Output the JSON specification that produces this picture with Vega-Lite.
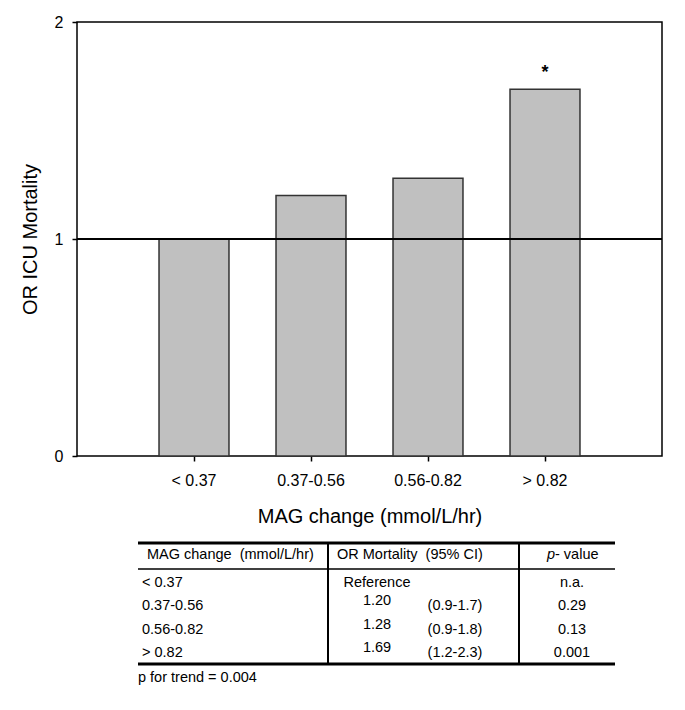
{
  "$schema": "https://vega.github.io/schema/vega-lite/v6.json",
  "background": "white",
  "padding": {"left": 19, "top": 13, "right": 5, "bottom": 5},
  "spacing": 14,
  "config": {
    "font": "Liberation Sans",
    "view": {"stroke": "black", "strokeWidth": 1.5},
    "axis": {
      "domain": false,
      "grid": false,
      "ticks": true,
      "tickColor": "black",
      "tickWidth": 1.5,
      "tickSize": 5,
      "labelColor": "black",
      "titleColor": "black",
      "labelFont": "Liberation Sans",
      "titleFont": "Liberation Sans",
      "titleFontWeight": "normal",
      "titleFontSize": 20
    },
    "text": {"font": "Liberation Sans", "color": "black"}
  },
  "datasets": {
    "bars": [
      {"cat": "< 0.37", "or": 1.0, "sig": ""},
      {"cat": "0.37-0.56", "or": 1.2, "sig": ""},
      {"cat": "0.56-0.82", "or": 1.28, "sig": ""},
      {"cat": "> 0.82", "or": 1.69, "sig": "*"}
    ],
    "cells": [
      {"row": 0, "col": 1, "role": "head1", "text": "MAG change\u00a0\u00a0(mmol/L/hr)"},
      {"row": 0, "col": 2, "role": "head2", "text": "OR Mortality\u00a0\u00a0(95% CI)"},
      {"row": 1, "col": 1, "role": "group", "text": "< 0.37"},
      {"row": 2, "col": 1, "role": "group", "text": "0.37-0.56"},
      {"row": 3, "col": 1, "role": "group", "text": "0.56-0.82"},
      {"row": 4, "col": 1, "role": "group", "text": "> 0.82"},
      {"row": 1, "col": 3, "role": "ref", "text": "Reference"},
      {"row": 2, "col": 3, "role": "or", "text": "1.20"},
      {"row": 3, "col": 3, "role": "or", "text": "1.28"},
      {"row": 4, "col": 3, "role": "or", "text": "1.69"},
      {"row": 2, "col": 4, "role": "ci", "text": "(0.9-1.7)"},
      {"row": 3, "col": 4, "role": "ci", "text": "(0.9-1.8)"},
      {"row": 4, "col": 4, "role": "ci", "text": "(1.2-2.3)"},
      {"row": 1, "col": 6, "role": "p", "text": "n.a."},
      {"row": 2, "col": 6, "role": "p", "text": "0.29"},
      {"row": 3, "col": 6, "role": "p", "text": "0.13"},
      {"row": 4, "col": 6, "role": "p", "text": "0.001"},
      {"row": 5, "col": 0, "role": "foot", "text": "p for trend = 0.004"}
    ],
    "lines": [
      {"kind": "outer", "row": -0.5, "col": 0, "col2": 7},
      {"kind": "outer", "row": 4.5, "col": 0, "col2": 7},
      {"kind": "header", "row": 0.5, "col": 0, "col2": 7},
      {"kind": "sep", "col": 2, "row": -0.5, "row2": 4.5},
      {"kind": "sep", "col": 5, "row": -0.5, "row2": 4.5}
    ]
  },
  "vconcat": [
    {
      "width": 585,
      "height": 434,
      "data": {"name": "bars"},
      "encoding": {
        "x": {
          "field": "cat",
          "type": "nominal",
          "sort": null,
          "scale": {"paddingInner": 0.402, "paddingOuter": 0.701},
          "axis": {"labelAngle": 0, "labelFontSize": 16, "labelPadding": 11, "title": "MAG change (mmol/L/hr)", "titlePadding": 18}
        },
        "y": {
          "field": "or",
          "type": "quantitative",
          "scale": {"domain": [0, 2], "nice": false},
          "axis": {"values": [0, 1, 2], "labelExpr": "format(datum.value, 'd')", "labelOverlap": false, "labelFontSize": 16, "labelPadding": 9, "title": "OR ICU Mortality", "titlePadding": 14}
        }
      },
      "layer": [
        {"mark": {"type": "bar", "fill": "#c0c0c0", "stroke": "#333333", "strokeWidth": 1.5}},
        {"mark": {"type": "rule", "color": "black", "strokeWidth": 1.3}, "encoding": {"x": null, "y": {"datum": 1, "type": "quantitative"}}},
        {
          "transform": [{"filter": "datum.sig != ''"}],
          "mark": {"type": "text", "baseline": "alphabetic", "dy": -11, "fontSize": 18, "fontWeight": "bold"},
          "encoding": {"text": {"field": "sig"}}
        }
      ]
    },
    {
      "width": 585,
      "height": 145,
      "view": {"stroke": null},
      "encoding": {
        "x": {"field": "col", "type": "quantitative", "axis": null,
              "scale": {"domain": [0, 1, 2, 3, 4, 5, 6, 7], "range": [61, 65, 251, 300, 378, 442, 495, 538], "zero": false, "nice": false}},
        "y": {"field": "row", "type": "quantitative", "axis": null,
              "scale": {"domain": [-0.5, 0, 0.5, 1, 4, 4.5, 5], "range": [2, 14, 28, 42, 112, 123, 137], "zero": false, "nice": false}}
      },
      "layer": [
        {"data": {"name": "lines"}, "transform": [{"filter": "datum.kind == 'outer'"}],
         "mark": {"type": "rule", "color": "black", "strokeWidth": 3},
         "encoding": {"x2": {"field": "col2"}}},
        {"data": {"name": "lines"}, "transform": [{"filter": "datum.kind == 'header'"}],
         "mark": {"type": "rule", "color": "black", "strokeWidth": 1.5},
         "encoding": {"x2": {"field": "col2"}}},
        {"data": {"name": "lines"}, "transform": [{"filter": "datum.kind == 'sep'"}],
         "mark": {"type": "rule", "color": "black", "strokeWidth": 2},
         "encoding": {"y2": {"field": "row2"}}},
        {"data": {"name": "cells"}, "transform": [{"filter": "datum.role == 'group' || datum.role == 'foot'"}],
         "mark": {"type": "text", "align": "left", "baseline": "middle", "fontSize": 14.5},
         "encoding": {"text": {"field": "text"}}},
        {"data": {"name": "cells"}, "transform": [{"filter": "datum.role == 'head1'"}],
         "mark": {"type": "text", "align": "left", "baseline": "middle", "fontSize": 14.5, "dx": 5},
         "encoding": {"text": {"field": "text"}}},
        {"data": {"name": "cells"}, "transform": [{"filter": "datum.role == 'head2'"}],
         "mark": {"type": "text", "align": "left", "baseline": "middle", "fontSize": 14.5, "dx": 9},
         "encoding": {"text": {"field": "text"}}},
        {"data": {"name": "cells"}, "transform": [{"filter": "datum.role == 'ref' || datum.role == 'ci' || datum.role == 'p'"}],
         "mark": {"type": "text", "align": "center", "baseline": "middle", "fontSize": 14.5},
         "encoding": {"text": {"field": "text"}}},
        {"data": {"name": "cells"}, "transform": [{"filter": "datum.role == 'or'"}],
         "mark": {"type": "text", "align": "center", "baseline": "middle", "fontSize": 14.5, "dy": -5},
         "encoding": {"text": {"field": "text"}}},
        {"data": {"values": [{"row": 0, "col": 6, "text": "p"}]},
         "mark": {"type": "text", "align": "right", "baseline": "middle", "fontSize": 14.5, "fontStyle": "italic", "dx": -17},
         "encoding": {"text": {"field": "text"}}},
        {"data": {"values": [{"row": 0, "col": 6, "text": "- value"}]},
         "mark": {"type": "text", "align": "left", "baseline": "middle", "fontSize": 14.5, "dx": -17},
         "encoding": {"text": {"field": "text"}}}
      ]
    }
  ]
}
